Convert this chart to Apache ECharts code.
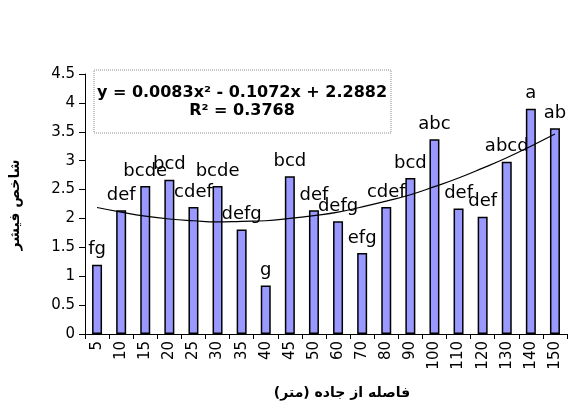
<!DOCTYPE html>
<html>
<head>
<meta charset="utf-8">
<script src="https://cdn.jsdelivr.net/npm/echarts@6/dist/echarts.min.js"></script>
<style>
html,body{margin:0;padding:0;background:#fff;}
#chart{width:570px;height:403px;}
</style>
</head>
<body>
<div id="chart"></div>
<script>
var categories = ['5','10','15','20','25','30','35','40','45','50','60','70','80','90','100','110','120','130','140','150'];
var values = [1.20,2.14,2.56,2.67,2.20,2.56,1.81,0.84,2.73,2.14,1.95,1.40,2.20,2.70,3.37,2.17,2.03,2.98,3.90,3.56];
var letters = ['fg','def','bcde','bcd','cdef','bcde','defg','g','bcd','def','defg','efg','cdef','bcd','abc','def','def','abcd','a','ab'];
var trend = [2.19,2.11,2.04,1.99,1.96,1.94,1.95,1.96,2.00,2.05,2.11,2.20,2.30,2.41,2.55,2.70,2.87,3.05,3.25,3.46];
var yTicks = {min: 0, max: 4.5, interval: 0.5};
var equationText = 'y = 0.0083x² - 0.1072x + 2.2882\nR² = 0.3768';
var xTitle = 'فاصله از جاده (متر)';
var yTitle = 'شاخص فیشر';

var FONT = '"DejaVu Sans", Arial, sans-serif';
var chart = echarts.init(document.getElementById('chart'), null, {renderer: 'canvas'});
chart.setOption({
  backgroundColor: '#ffffff',
  animation: false,
  grid: {left: 85, right: 3, top: 74, bottom: 69},
  xAxis: {
    type: 'category',
    data: categories,
    boundaryGap: true,
    axisLine: {lineStyle: {color: '#000', width: 1}},
    axisTick: {show: true, interval: 0, length: 5, lineStyle: {color: '#000'}},
    axisLabel: {interval: 0, rotate: 90, color: '#000', fontSize: 15, fontFamily: FONT, margin: 7}
  },
  yAxis: {
    type: 'value',
    min: yTicks.min, max: yTicks.max, interval: yTicks.interval,
    axisLine: {show: true, lineStyle: {color: '#000', width: 1}},
    axisTick: {show: true, length: 6, lineStyle: {color: '#000'}},
    splitLine: {show: false},
    axisLabel: {color: '#000', fontSize: 15, fontFamily: FONT, margin: 10}
  },
  series: [
    {
      type: 'bar',
      data: values,
      barWidth: 10,
      itemStyle: {color: '#9999FF', borderColor: '#000', borderWidth: 1.5},
      label: {
        show: true, position: 'top', distance: 6,
        color: '#000', fontSize: 18, fontFamily: FONT,
        formatter: function (p) { return letters[p.dataIndex]; }
      },
      z: 2
    },
    {
      type: 'line',
      data: trend,
      smooth: true,
      symbol: 'none',
      lineStyle: {color: '#000', width: 1.2},
      z: 3
    }
  ],
  graphic: [
    {
      type: 'rect', z: 10,
      shape: {x: 94, y: 70, width: 297, height: 63},
      style: {fill: '#fff', stroke: '#8c8c8c', lineWidth: 1, lineDash: [1, 1]}
    },
    {
      type: 'text', z: 11, x: 242, y: 102,
      style: {text: equationText, fill: '#000', font: 'bold 16px ' + FONT,
              align: 'center', verticalAlign: 'middle', lineHeight: 18}
    },
    {
      type: 'text', z: 11, x: 15, y: 205, rotation: Math.PI / 2,
      style: {text: yTitle, fill: '#000', font: 'bold 14px ' + FONT,
              align: 'center', verticalAlign: 'middle'}
    },
    {
      type: 'text', z: 11, x: 342, y: 393,
      style: {text: xTitle, fill: '#000', font: 'bold 14px ' + FONT,
              align: 'center', verticalAlign: 'middle'}
    }
  ]
});
</script>
</body>
</html>
